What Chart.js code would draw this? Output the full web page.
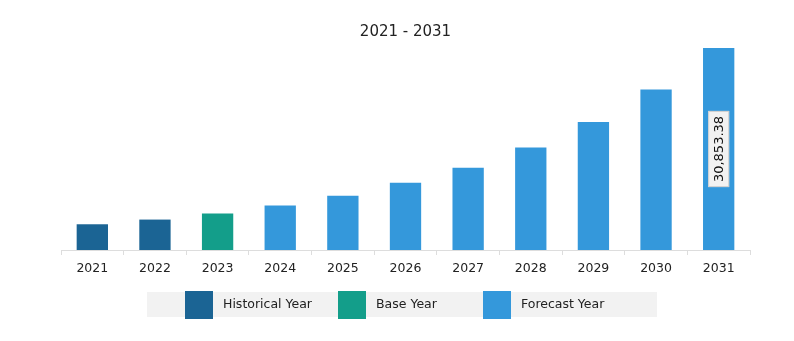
<!DOCTYPE html>
<html>
<head>
<meta charset="utf-8">
<script src="https://cdn.jsdelivr.net/npm/chart.js@4/dist/chart.umd.min.js"></script>
<style>
  html, body { margin: 0; padding: 0; background: #fff; }
  #wrap { width: 794px; height: 341px; position: relative; }
</style>
</head>
<body>
<div id="wrap"><canvas id="marketChart"></canvas></div>
<script>
const years = ["2021", "2022", "2023", "2024", "2025", "2026", "2027", "2028", "2029", "2030", "2031"];
const values = [3931, 4647, 5561, 6780, 8304, 10284, 12570, 15663, 19532, 24500, 30853.38];
const yearTypes = ["hist", "hist", "base", "fore", "fore", "fore", "fore", "fore", "fore", "fore", "fore"];
const legendNames = ["Historical Year", "Base Year", "Forecast Year"];
const legendKeys = ["hist", "base", "fore"];
const labelledIndex = [10];

const colors = { hist: "#1b6494", base: "#139e8a", fore: "#3498db" };
const font = "'DejaVu Sans', sans-serif";

/* LEGEND BAR */
const legendBar = {
    id: "legendBar",
    afterDraw(chart) {
        const ctx = chart.ctx;
        ctx.save();
        ctx.fillStyle = "#f2f2f2";
        ctx.fillRect(147, 292, 510, 25);
        const boxX = [185, 338, 483];
        ctx.font = "12.5px " + font;
        ctx.textBaseline = "middle";
        legendKeys.forEach((k, i) => {
            ctx.fillStyle = colors[k];
            ctx.fillRect(boxX[i], 291, 28, 28);
            ctx.fillStyle = "#222";
            ctx.fillText(legendNames[i], boxX[i] + 38, 305);
        });
        ctx.restore();
    }
};

/* VALUE LABEL */
const valueLabel = {
    id: "valueLabel",
    afterDatasetsDraw(chart) {
        const ctx = chart.ctx;
        const meta = chart.getDatasetMeta(0);
        labelledIndex.forEach(i => {
            const bar = meta.data[i];
            const cx = bar.x;
            const cy = (bar.y + bar.base) / 2;
            const text = values[i].toLocaleString("en-US", { minimumFractionDigits: 2, maximumFractionDigits: 2 });
            ctx.save();
            ctx.translate(cx, cy);
            ctx.rotate(-Math.PI / 2);
            ctx.font = "13px " + font;
            const w = ctx.measureText(text).width + 10;
            ctx.fillStyle = "#f2f2f2";
            ctx.fillRect(-w / 2, -10.5, w, 21);
            ctx.strokeStyle = "#cfcfcf";
            ctx.lineWidth = 1;
            ctx.strokeRect(-w / 2 + 0.5, -10, w - 1, 20);
            ctx.fillStyle = "#111";
            ctx.textAlign = "center";
            ctx.textBaseline = "middle";
            ctx.fillText(text, 0, 1);
            ctx.restore();
        });
    }
};

new Chart(document.getElementById("marketChart"), {
    type: "bar",
    data: {
        labels: years,
        datasets: [{
            data: values,
            backgroundColor: yearTypes.map(t => colors[t]),
            borderWidth: 0,
            barPercentage: 0.5,
            categoryPercentage: 1
        }]
    },
    options: {
        responsive: true,
        maintainAspectRatio: false,
        animation: false,
        layout: {
            padding: { left: 61, right: 44, top: 0, bottom: 59 }
        },
        scales: {
            y: {
                display: false,
                min: 0,
                max: Math.max(...values)
            },
            x: {
                offset: true,
                grid: {
                    offset: true,
                    drawOnChartArea: false,
                    drawTicks: true,
                    tickLength: 5,
                    color: "#dddddd"
                },
                border: { color: "#dddddd", width: 1 },
                ticks: {
                    color: "#222",
                    padding: 6,
                    font: { family: font, size: 12.5 }
                }
            }
        },
        plugins: {
            legend: { display: false },
            tooltip: { enabled: false },
            title: {
                display: true,
                text: "2021 - 2031",
                color: "#222",
                font: { family: font, size: 15, weight: "normal" },
                padding: { top: 23, bottom: 7 }
            }
        }
    },
    plugins: [legendBar, valueLabel]
});
</script>
</body>
</html>
